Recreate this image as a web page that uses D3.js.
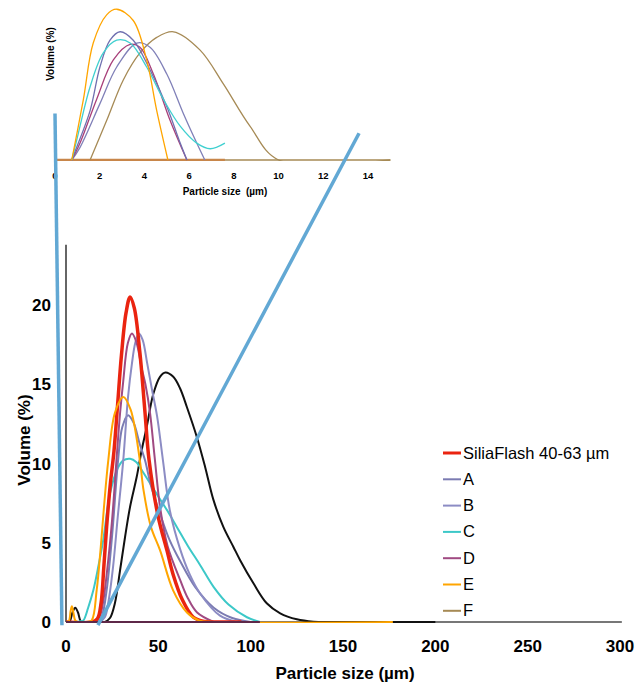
<!DOCTYPE html>
<html lang="en">
<head>
<meta charset="utf-8">
<title>Particle size distribution</title>
<style type="text/css">
  body { margin: 0; background: #fff; }
  svg { display: block; font-family: "Liberation Sans", Arial, sans-serif; }
</style>
<script src="https://cdn.jsdelivr.net/npm/d3@7"></script>
</head>
<body>
<div id="chart"></div>
<script>
// main chart: particle size (um) vs volume (%)
var siliaFlash = [[0,0],[14,0],[17,0.2],[19,1.2],[20.5,3.5],[22,6],[24,8.7],[26,10.8],[28,13.8],[30,16.8],[32.5,19.5],[34.7,20.5],[37,19.8],[40,17],[42.8,13.2],[45,10.2],[50,6.6],[54.7,4.5],[58,3],[63,1.4],[69,0.3],[75,0.03],[80,0],[95,0]];
var seriesA = [[0,0],[17,0],[19.5,0.4],[22,2],[25,5.5],[28.2,10.2],[30.5,12.3],[33.6,13.05],[36.5,12.6],[40,11.2],[42.8,10.2],[46,8.6],[51,6.8],[56,5.2],[62,3.8],[70,2.2],[80,0.9],[90,0.25],[100,0]];
var seriesB = [[0,0],[18,0],[21,0.3],[23,1.3],[25.5,3.5],[28,6.6],[31,10.2],[33.6,14.2],[35.7,16.3],[37.5,17.6],[39.5,18.2],[41.5,17.8],[44,16.3],[46.5,14.7],[49.3,13],[52.5,10.2],[56.3,7],[61.8,4.6],[67,3],[72.6,1.8],[83.4,0.4],[92.6,0]];
var seriesC = [[0,0],[5,0],[8,0.05],[9.4,0.1],[12,0.9],[14.8,2],[17.5,3.5],[20.2,5.2],[23.8,8.1],[28,9.7],[31,10.2],[34.7,10.3],[38,10.1],[42,9.4],[49,8.1],[55,7],[60,6],[66,4.8],[72.6,3.6],[80,2.2],[88,1.1],[98,0.3],[105,0]];
var seriesD = [[0,0],[15,0],[18,0.3],[20,1.2],[22.5,3.5],[25,6.5],[27.5,10.5],[29.3,13.2],[31,15.2],[33.5,17.6],[35.7,18.2],[38,17.7],[41,16],[43,15],[45.5,13.2],[48,10.4],[51,7.2],[55,4.8],[62,2.6],[66,1.5],[71,0.6],[80,0]];
var seriesE = [[0,0],[1.5,0.05],[2.5,0.7],[3.2,1.0],[4,0.6],[5,0.1],[6.5,0],[11,0],[13.9,0.1],[16.6,2],[18.8,4.7],[20.6,7.3],[22.9,10.2],[26.5,13.2],[31,14.2],[35,13.4],[40,10.2],[42,8.3],[46,6],[51,4.5],[58,2],[65.5,0.6],[72,0.1],[80,0],[177,0]];
var seriesF = [[0,0],[2,0.05],[3.5,0.6],[5,0.9],[6.5,0.6],[8,0.05],[10,0],[21,0],[23.8,0.25],[26.5,1.2],[29.3,3.28],[32,5.38],[34.7,7.27],[38.3,9.16],[41,10.85],[43.7,12.3],[47.3,14.4],[50.9,15.47],[53.8,15.74],[58.1,15.47],[61.8,14.73],[65.4,13.58],[70.8,11.69],[75.3,9.8],[79.8,7.72],[85.2,6.0],[90.6,4.75],[94.3,3.9],[101.5,2.44],[108.7,1.18],[116,0.55],[125,0.17],[134,0.02],[145,0],[200,0]];
var baseline = [[0,0],[105,0]];

// inset: 0-15 um, relative volume
var insetA = [[0.75,0],[0.97,0.09],[1.57,0.35],[2.01,0.66],[2.46,0.85],[2.91,0.91],[3.5,0.85],[4.25,0.64],[5.0,0.38],[5.6,0.12],[5.9,0]];
var insetB = [[0.75,0],[1.12,0.09],[2.01,0.40],[2.76,0.66],[3.66,0.83],[4.25,0.80],[5.0,0.61],[5.74,0.33],[6.34,0.12],[6.7,0]];
var insetC = [[0.75,0],[0.97,0.14],[1.57,0.52],[2.16,0.76],[2.76,0.85],[3.36,0.83],[4.1,0.66],[4.85,0.43],[5.6,0.24],[6.34,0.12],[6.94,0.08],[7.6,0.12]];
var insetD = [[0.75,0],[1.12,0.12],[1.86,0.43],[2.61,0.71],[3.36,0.82],[3.8,0.8],[4.4,0.61],[5.15,0.28],[5.9,0]];
var insetE = [[0.75,0],[1.27,0.43],[1.71,0.83],[2.31,1.03],[2.76,1.07],[3.5,0.99],[4.1,0.71],[4.55,0.35],[5.05,0]];
var insetF = [[1.57,0],[2.31,0.28],[3.06,0.57],[3.8,0.76],[4.55,0.87],[5.3,0.91],[6.49,0.78],[7.53,0.54],[8.72,0.24],[10.0,0],[15,0]];
var insetBase = [[0,0],[7.6,0]];

var xTicks = [0, 50, 100, 150, 200, 250, 300];
var yTicks = [0, 5, 10, 15, 20];
var insetTicks = [0, 2, 4, 6, 8, 10, 12, 14];
var legendNames = ["SiliaFlash 40-63 \u00b5m", "A", "B", "C", "D", "E", "F"];
var legendColors = ["#ea2410", "#7b7bb2", "#8c8cc4", "#3cc8c8", "#a04a82", "#ffa500", "#a68a55"];

// connector lines: inset point -> main chart point
var connectors = [
  { inset: [0, 0.33], main: [-2.2, -0.2] },
  { inset: [13.6, 0.19], main: [17.3, -0.2] }
];

var svg = d3.select("#chart").append("svg").attr("width", 644).attr("height", 683);

var x = d3.scaleLinear().domain([0, 300]).range([66, 620]);
var y = d3.scaleLinear().domain([0, 20]).range([622, 305]);
var xi = d3.scaleLinear().domain([0, 14]).range([55, 368]);
var yi = d3.scaleLinear().domain([0, 1.1]).range([160, 5]);

// keep smoothed curves from dipping under the baselines
var defs = svg.append("defs");
defs.append("clipPath").attr("id", "clipMain").append("rect")
  .attr("x", x(0)).attr("y", 0).attr("width", x(310) - x(0)).attr("height", y(0) + 1);
defs.append("clipPath").attr("id", "clipInset").append("rect")
  .attr("x", xi(0)).attr("y", 0).attr("width", xi(16) - xi(0)).attr("height", yi(0) + 1);

var curve = d3.curveCatmullRom.alpha(0.5);
var line = d3.line().x(function(d){ return x(d[0]); }).y(function(d){ return y(d[1]); }).curve(curve);
var iline = d3.line().x(function(d){ return xi(d[0]); }).y(function(d){ return yi(d[1]); }).curve(curve);

// ---- inset ----
var inset = svg.append("g");
var insetPlot = inset.append("g").attr("clip-path", "url(#clipInset)");
insetPlot.append("path").attr("d", iline([[0,0],[15,0]])).attr("fill","none").attr("stroke","#a68a55").attr("stroke-width",1.5);
insetPlot.append("path").attr("d", iline(insetBase)).attr("fill","none").attr("stroke","#c8864a").attr("stroke-width",2.5);

var insetSeries = [
  [insetF, "#a68a55"], [insetB, "#8080b8"], [insetD, "#a8407a"],
  [insetA, "#7070b0"], [insetC, "#40d0d0"], [insetE, "#ffa500"]
];
insetSeries.forEach(function(s){
  insetPlot.append("path").attr("d", iline(s[0])).attr("fill","none").attr("stroke", s[1]).attr("stroke-width", 1.3);
});

inset.selectAll(".itick").data(insetTicks).enter().append("text")
  .attr("x", function(d){ return xi(d); }).attr("y", 179)
  .attr("text-anchor","middle").style("font-size","9.5px").style("font-weight","bold")
  .text(function(d){ return d; });
inset.append("text").attr("x", 225).attr("y", 195).attr("text-anchor","middle")
  .style("font-size","10px").style("font-weight","bold").style("white-space","pre")
  .text("Particle size  (\u00b5m)");
inset.append("text").attr("transform","translate(54,54) rotate(-90)").attr("text-anchor","middle")
  .style("font-size","10px").style("font-weight","bold").text("Volume (%)");

// ---- main chart ----
var main = svg.append("g");
main.append("line").attr("x1", x(0)).attr("x2", x(0)).attr("y1", y(0)).attr("y2", y(23.8))
  .attr("stroke","#666").attr("stroke-width",2);
main.append("line").attr("x1", x(0)).attr("x2", x(301)).attr("y1", y(0)).attr("y2", y(0))
  .attr("stroke","#777").attr("stroke-width",2);

var plot = main.append("g").attr("clip-path", "url(#clipMain)");
var mainSeries = [
  [seriesF, "#111111", 2], [seriesC, "#3cc8c8", 2], [seriesA, "#7b7bb2", 2],
  [seriesB, "#8c8cc4", 2], [seriesD, "#a04a82", 2], [siliaFlash, "#ea2410", 3.5],
  [seriesE, "#ffa500", 2]
];
mainSeries.forEach(function(s){
  plot.append("path").attr("d", line(s[0])).attr("fill","none").attr("stroke", s[1])
    .attr("stroke-width", s[2]).attr("stroke-linejoin","round");
});
plot.append("path").attr("d", line(baseline)).attr("fill","none").attr("stroke","#5e2848").attr("stroke-width",2);

main.selectAll(".xt").data(xTicks).enter().append("text")
  .attr("x", function(d){ return x(d); }).attr("y", 652).attr("text-anchor","middle")
  .style("font-size","17px").style("font-weight","bold").text(function(d){ return d; });
main.selectAll(".yt").data(yTicks).enter().append("text")
  .attr("x", 51).attr("y", function(d){ return y(d) + 6; }).attr("text-anchor","end")
  .style("font-size","17px").style("font-weight","bold").text(function(d){ return d; });
main.append("text").attr("x", 345).attr("y", 679).attr("text-anchor","middle")
  .style("font-size","17px").style("font-weight","bold").text("Particle size (\u00b5m)");
main.append("text").attr("transform","translate(30,440) rotate(-90)").attr("text-anchor","middle")
  .style("font-size","17px").style("font-weight","bold").text("Volume (%)");

// legend
var legend = main.selectAll(".lg").data(legendNames).enter().append("g")
  .attr("transform", function(d, i){ return "translate(443," + (453 + i * 26.3) + ")"; });
legend.append("line").attr("x1",0).attr("x2",18).attr("y1",0).attr("y2",0)
  .attr("stroke", function(d, i){ return legendColors[i]; })
  .attr("stroke-width", function(d, i){ return i === 0 ? 3 : 2; });
legend.append("text").attr("x", 20).attr("y", 5.5).style("font-size","16.5px").text(function(d){ return d; });

// connector lines from inset to main chart
svg.selectAll(".conn").data(connectors).enter().append("line")
  .attr("x1", function(d){ return xi(d.inset[0]); }).attr("y1", function(d){ return yi(d.inset[1]); })
  .attr("x2", function(d){ return x(d.main[0]); }).attr("y2", function(d){ return y(d.main[1]); })
  .attr("stroke","#62a8d4").attr("stroke-width",3.5);
</script>
</body>
</html>
